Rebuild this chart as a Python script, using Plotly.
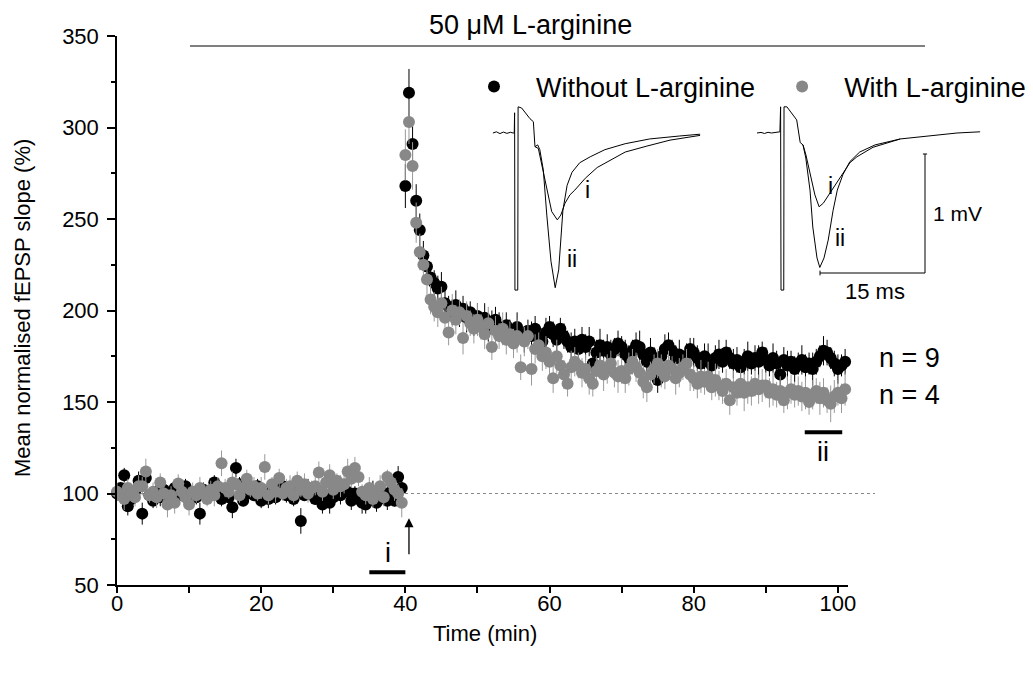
import numpy as np
import plotly.graph_objects as go

# ---------------- data ----------------
TIME_STEP = 0.5  # min between sweeps

BLACK_BASE = [100, 103, 110, 93, 97, 101, 107, 89, 108.5, 99,
              96, 101, 98, 102, 100, 97, 103, 99, 101, 104,
              96, 100, 98, 89, 102, 99, 101, 106, 103, 97,
              100, 98, 92.5, 114, 105, 96, 100, 102, 99, 104,
              96, 101, 97, 103, 98, 100, 104, 99, 101, 97,
              102, 85, 99, 103, 100, 97, 101, 94, 98, 95,
              98, 104, 99, 101, 101, 96, 100, 97, 95, 94,
              99, 101, 95, 98, 100, 96, 101, 96, 109, 103]
GRAY_BASE = [101, 99, 97, 103, 100, 98, 104, 104, 112, 99,
             101, 98, 106, 100, 94, 99, 95, 105.5, 101, 98,
             94, 101, 99, 103, 100, 97, 102, 99, 104, 116.5,
             103, 101, 106, 105, 99, 103, 108, 102, 104, 100,
             103, 114.5, 99, 105, 101, 108.5, 100, 103, 104, 99,
             107, 102, 105, 100, 103, 104, 111.5, 101, 106, 110,
             102, 107, 104, 105, 112, 108, 114, 109, 101, 99,
             103, 97, 101, 104, 98, 109, 106, 102, 100, 95]
BLACK_POST = [268, 319, 291, 260, 244, 230, 224, 218, 215, 212,
              213, 204, 202, 199, 203, 197, 201, 196, 199, 193,
              197, 192, 196, 190, 194, 195, 191, 188, 192, 189,
              186, 191, 187, 184, 189, 186, 190, 185, 183, 188,
              191, 187, 184, 190, 186, 183, 180, 183, 179, 184,
              180, 183, 171, 177, 181, 178, 180, 176, 179, 182,
              180, 176, 174, 178, 181, 180, 176, 172, 177, 174,
              162, 175, 179, 181, 178, 174, 176, 172, 175, 179,
              177, 174, 171, 175, 173, 170, 174, 176, 172, 177,
              174, 171, 173, 169, 172, 175, 171, 174, 172, 177,
              173, 170, 174, 171, 165, 173, 170, 172, 168, 171,
              173, 169, 171, 168, 172, 175, 178, 177, 174, 171,
              168, 170, 172, 166, 169, 167]
GRAY_POST = [285, 303, 279, 248, 232, 225, 217, 206, 202, 199,
             204, 196, 188, 200, 195, 199, 185, 197, 193, 190,
             195, 191, 187, 193, 180, 189, 186, 190, 184, 187,
             182, 186, 169, 183, 186, 168, 179, 181, 175, 177,
             172, 163, 175, 170, 165, 160, 169, 172, 170, 166,
             168, 163, 160, 167, 170, 165, 168, 171, 166, 164,
             167, 163, 168, 172, 169, 166, 161, 158, 165, 168,
             171, 167, 164, 170, 168, 163, 166, 169, 171, 165,
             163, 160, 164, 161, 164, 158, 162, 159, 156, 160,
             151, 158, 155, 160, 155, 158, 156, 160, 157, 159,
             159, 155, 157, 154, 156, 151, 155, 157, 154, 156,
             153, 155, 150, 154, 156, 152, 155, 151, 149, 153,
             155, 152, 157, 154, 156, 155]

BLACK_BASE_ERR = [4, 3, 4, 5, 3, 4, 5, 6, 4, 3, 4, 3, 5, 4, 3, 4, 3, 5, 4, 4,
                  5, 3, 4, 6, 4, 3, 5, 4, 3, 4, 3, 4, 6, 5, 4, 3, 4, 5, 3, 4,
                  4, 3, 5, 4, 4, 3, 5, 4, 3, 4, 4, 7, 3, 5, 4, 3, 4, 5, 4, 6,
                  4, 3, 5, 4, 3, 5, 4, 3, 6, 5, 4, 6, 5, 3, 4, 5, 4, 3, 6, 5]
GRAY_BASE_ERR = [5, 4, 6, 5, 4, 5, 6, 5, 7, 4, 5, 6, 5, 4, 7, 5, 6, 5, 4, 5,
                 6, 5, 4, 6, 5, 4, 5, 6, 5, 7, 5, 4, 6, 5, 4, 6, 5, 4, 5, 4,
                 6, 7, 5, 4, 6, 5, 4, 5, 6, 4, 5, 4, 6, 5, 4, 5, 6, 5, 4, 6,
                 5, 4, 6, 5, 7, 5, 6, 5, 4, 5, 6, 5, 4, 6, 5, 4, 5, 6, 5, 8]
BLACK_POST_ERR = [12, 13, 10, 9, 9, 8, 8, 7, 7, 7, 8, 7, 6, 7, 8, 6, 7, 8, 6, 7,
                  7, 6, 8, 7, 6, 7, 8, 6, 7, 6, 7, 8, 6, 7, 6, 8, 7, 6, 7, 8,
                  6, 7, 8, 6, 7, 6, 8, 7, 6, 7, 7, 8, 6, 7, 9, 6, 7, 8, 6, 7,
                  6, 8, 7, 6, 7, 9, 6, 7, 8, 6, 7, 6, 8, 7, 6, 7, 8, 6, 7, 6,
                  8, 7, 6, 7, 9, 6, 7, 8, 6, 7, 6, 8, 7, 6, 7, 8, 6, 7, 9, 6,
                  7, 6, 8, 7, 6, 7, 8, 6, 7, 6, 8, 7, 6, 9, 7, 6, 8, 7, 6, 7,
                  8, 6, 7, 6, 8, 7]
GRAY_POST_ERR = [14, 12, 13, 11, 10, 9, 9, 8, 8, 8, 9, 8, 7, 9, 8, 7, 9, 8, 7, 8,
                 9, 7, 8, 9, 7, 8, 7, 9, 8, 7, 8, 9, 7, 8, 7, 9, 8, 7, 8, 9,
                 7, 8, 9, 7, 8, 7, 9, 8, 7, 8, 8, 9, 7, 8, 7, 9, 8, 7, 8, 9,
                 7, 8, 9, 7, 8, 7, 9, 8, 7, 8, 8, 9, 7, 8, 7, 9, 8, 7, 8, 9,
                 7, 8, 9, 7, 8, 7, 9, 8, 7, 8, 8, 9, 7, 8, 10, 9, 8, 7, 8, 9,
                 7, 8, 9, 7, 8, 7, 9, 8, 7, 8, 8, 9, 7, 8, 7, 9, 8, 7, 10, 9,
                 7, 8, 9, 7, 8, 7]

# inset traces (time in ms from stimulus, voltage in mV)
INS1_T_I = [-3.3, -2.8, -2.3, -1.8, -1.3, -0.8, -0.4, -0.25, -0.2, -0.15, 0.25, 0.3,
            0.81, 2.0, 2.48, 2.71, 3.19, 3.7, 4.4, 5.1, 5.9, 6.4, 7.0, 7.7, 8.4, 9.9,
            11.6, 13.4, 15.6, 18.7, 22.0, 26.3]
INS1_V_I = [0, 0.01, -0.005, 0.008, -0.003, 0.006, 0, 0, 0.17, -1.32, -1.32, 0.22,
            0.21, 0.12, 0.095, -0.115, -0.13, -0.27, -0.48, -0.66, -0.73, -0.69, -0.59,
            -0.52, -0.48, -0.38, -0.29, -0.23, -0.16, -0.11, -0.06, -0.02]
INS1_T_II = [2.71, 3.1, 3.4, 3.9, 4.4, 5.0, 5.6, 6.1, 6.7, 7.3, 8.0, 9.1, 10.6, 12.7,
             15.6, 19.1, 23.4, 26.3]
INS1_V_II = [-0.115, -0.10, -0.14, -0.31, -0.69, -1.08, -1.30, -1.15, -0.65, -0.44,
             -0.33, -0.25, -0.20, -0.14, -0.09, -0.05, -0.025, -0.01]
INS2_T_I = [-3.57, -3.0, -2.5, -2.0, -1.5, -1.0, -0.43, -0.3, -0.2, -0.14, 0.25, 0.29,
            0.7, 2.1, 2.6, 3.0, 3.4, 4.0, 4.7, 5.3, 5.9, 6.9, 7.9, 8.7, 9.7, 10.7,
            13.0, 16.9, 20.0, 22.6, 25.0, 28.3]
INS2_V_I = [0, 0.005, -0.004, 0.006, 0, 0.004, 0.01, 0.01, 0.22, -1.32, -1.32, 0.22,
            0.22, 0.11, -0.08, -0.10, -0.18, -0.33, -0.52, -0.62, -0.59, -0.5, -0.41,
            -0.34, -0.25, -0.2, -0.12, -0.05, -0.03, -0.017, 0.0, 0.01]
INS2_T_II = [3.0, 3.4, 4.0, 4.4, 5.0, 5.4, 6.0, 6.6, 7.3, 7.9, 8.7, 9.7, 11.1, 13.3, 16.9]
INS2_V_II = [-0.10, -0.21, -0.48, -0.79, -1.05, -1.13, -1.05, -0.9, -0.65, -0.48,
             -0.35, -0.24, -0.16, -0.10, -0.05]
SCALE_MS = 15
SCALE_MV = 1

SERIES_NAMES = ["Without L-arginine", "With L-arginine"]
N_LABELS = ["n = 9", "n = 4"]

# ---------------- layout helpers ----------------
W, H = 1033, 678
ML, MR, MT, MB = 117, 8, 36, 93
PW = W - ML - MR
PH = H - MT - MB
FONT = "Liberation Sans, Arial, Helvetica, sans-serif"


def pxx(px):
    return (px - ML) / PW


def pxy(py):
    return (H - MB - py) / PH


black_y = BLACK_BASE + BLACK_POST
gray_y = GRAY_BASE + GRAY_POST
black_e = BLACK_BASE_ERR + BLACK_POST_ERR
gray_e = GRAY_BASE_ERR + GRAY_POST_ERR
t_black = np.arange(len(black_y)) * TIME_STEP
t_gray = np.arange(len(gray_y)) * TIME_STEP

fig = go.Figure()
fig.add_trace(go.Scatter(
    x=t_black, y=black_y, mode="markers", name=SERIES_NAMES[0],
    marker=dict(color="#000000", size=12, line=dict(width=0)),
    error_y=dict(type="data", array=black_e, color="#000000", thickness=1, width=0),
    cliponaxis=False))
fig.add_trace(go.Scatter(
    x=t_gray, y=gray_y, mode="markers", name=SERIES_NAMES[1],
    marker=dict(color="#888888", size=12, line=dict(width=0)),
    error_y=dict(type="data", array=gray_e, color="#999999", thickness=1, width=0),
    cliponaxis=False))

# insets
line_style = dict(color="#000000", width=1)
for xa, ya, tt, vv in [("x2", "y2", INS1_T_I, INS1_V_I), ("x2", "y2", INS1_T_II, INS1_V_II),
                       ("x3", "y3", INS2_T_I, INS2_V_I), ("x3", "y3", INS2_T_II, INS2_V_II)]:
    fig.add_trace(go.Scatter(x=tt, y=vv, mode="lines", line=line_style,
                             xaxis=xa, yaxis=ya, showlegend=False, hoverinfo="skip"))

PXMS, PXMV = 7.0, 119.0  # inset scale in px


def inset_axes(px0, px1, stim_px):
    return [(px0 - stim_px) / PXMS, (px1 - stim_px) / PXMS]


V_RANGE = [-(300 - 133) / PXMV, -(100 - 133) / PXMV]

axis_common = dict(showgrid=False, zeroline=False, showline=True, linecolor="#000000",
                   linewidth=1.5, ticks="outside", tickwidth=1.5, tickcolor="#000000",
                   tickfont=dict(family=FONT, size=22, color="#000000"),
                   title_font=dict(family=FONT, size=22, color="#000000"))

fig.update_layout(
    width=W, height=H,
    margin=dict(l=ML, r=MR, t=MT, b=MB, autoexpand=False),
    paper_bgcolor="#ffffff", plot_bgcolor="#ffffff",
    font=dict(family=FONT, color="#000000"),
    xaxis=dict(domain=[0, pxx(848)], range=[0, 101.4], dtick=20, tick0=0, ticklen=6,
               ticklabelstandoff=-8,
               minor=dict(dtick=10, ticks="outside", ticklen=6, tickwidth=1.5, tickcolor="#000000"),
               **axis_common),
    yaxis=dict(domain=[0, 1], range=[50, 350], dtick=50, tick0=50, ticklen=8,
               ticklabelstandoff=4,
               minor=dict(dtick=25, ticks="outside", ticklen=4, tickwidth=1.5, tickcolor="#000000"),
               **axis_common),
    xaxis2=dict(domain=[pxx(490), pxx(720)], range=inset_axes(490, 720, 516), visible=False,
                anchor="y2"),
    yaxis2=dict(domain=[pxy(300), pxy(100)], range=V_RANGE, visible=False, anchor="x2"),
    xaxis3=dict(domain=[pxx(750), pxx(1000)], range=inset_axes(750, 1000, 782), visible=False,
                anchor="y3"),
    yaxis3=dict(domain=[pxy(300), pxy(100)], range=V_RANGE, visible=False, anchor="x3"),
    showlegend=True,
    legend=dict(orientation="h", x=pxx(452), y=pxy(87), xanchor="left", yanchor="middle",
                font=dict(family=FONT, size=27, color="#000000"), bgcolor="rgba(0,0,0,0)",
                itemwidth=74, traceorder="normal"),
)

shapes = []
# drug application bar
shapes.append(dict(type="line", xref="paper", yref="paper", x0=pxx(190), x1=pxx(925),
                   y0=pxy(46), y1=pxy(46), line=dict(color="#000000", width=1)))
# 100% baseline dotted line
shapes.append(dict(type="line", xref="paper", yref="y", x0=0, x1=pxx(875), y0=100, y1=100,
                   line=dict(color="#888888", width=1, dash="dot"), layer="below"))
# i / ii bars
shapes.append(dict(type="line", xref="x", yref="y", x0=35, x1=40, y0=57, y1=57,
                   line=dict(color="#000000", width=4)))
shapes.append(dict(type="line", xref="x", yref="y", x0=95.4, x1=100.6, y0=133.5, y1=133.5,
                   line=dict(color="#000000", width=4)))
# scale bar in inset 2
sb_t1 = (925 - 782) / PXMS
sb_t0 = sb_t1 - SCALE_MS
sb_v0 = -(273 - 133) / PXMV
sb_v1 = sb_v0 + SCALE_MV
shapes.append(dict(type="line", xref="x3", yref="y3", x0=sb_t0, x1=sb_t1, y0=sb_v0, y1=sb_v0,
                   line=dict(color="#000000", width=1)))
shapes.append(dict(type="line", xref="x3", yref="y3", x0=sb_t1, x1=sb_t1, y0=sb_v0, y1=sb_v1,
                   line=dict(color="#000000", width=1)))
shapes.append(dict(type="line", xref="x3", yref="y3", x0=sb_t1 - 0.3, x1=sb_t1 + 0.3, y0=sb_v1, y1=sb_v1,
                   line=dict(color="#000000", width=1)))
shapes.append(dict(type="line", xref="x3", yref="y3", x0=sb_t0, x1=sb_t0, y0=sb_v0 - 0.02, y1=sb_v0 + 0.02,
                   line=dict(color="#000000", width=1)))
fig.update_layout(shapes=shapes)

ann_font = dict(family=FONT, size=23, color="#000000")
big_font = dict(family=FONT, size=27, color="#000000")
title_font = dict(family=FONT, size=22, color="#000000")
annotations = [
    dict(text="Mean normalised fEPSP slope (%)", xref="paper", yref="paper", x=pxx(22),
         y=pxy(308), textangle=-90, showarrow=False, font=title_font,
         xanchor="center", yanchor="middle"),
    dict(text="Time (min)", xref="paper", yref="paper", x=pxx(485), y=pxy(633),
         showarrow=False, font=title_font, xanchor="center", yanchor="middle"),
    dict(text="50 \u03bcM L-arginine", xref="paper", yref="paper", x=pxx(530), y=pxy(25),
         showarrow=False, font=big_font, xanchor="center", yanchor="middle"),
    dict(text=N_LABELS[0], xref="paper", yref="y", x=pxx(909), y=174, showarrow=False,
         font=big_font, xanchor="center", yanchor="middle"),
    dict(text=N_LABELS[1], xref="paper", yref="y", x=pxx(909), y=154, showarrow=False,
         font=big_font, xanchor="center", yanchor="middle"),
    dict(text="i", xref="x", yref="y", x=37.6, y=67.5, showarrow=False, font=big_font),
    dict(text="ii", xref="x", yref="y", x=97.9, y=122.5, showarrow=False, font=big_font),
    dict(text="", xref="x", yref="y", x=40.5, y=86.5, ax=40.5, ay=66, axref="x", ayref="y",
         showarrow=True, arrowhead=2, arrowsize=1.4, arrowwidth=1.3, arrowcolor="#000000"),
    dict(text="i", xref="x2", yref="y2", x=(587 - 516) / PXMS, y=-(190 - 133) / PXMV,
         showarrow=False, font=ann_font),
    dict(text="ii", xref="x2", yref="y2", x=(572 - 516) / PXMS, y=-(259 - 133) / PXMV,
         showarrow=False, font=ann_font),
    dict(text="i", xref="x3", yref="y3", x=(830 - 782) / PXMS, y=-(186 - 133) / PXMV,
         showarrow=False, font=ann_font),
    dict(text="ii", xref="x3", yref="y3", x=(840 - 782) / PXMS, y=-(238 - 133) / PXMV,
         showarrow=False, font=ann_font),
    dict(text=f"{SCALE_MV} mV", xref="x3", yref="y3", x=sb_t1 + 0.8, y=(sb_v0 + sb_v1) / 2,
         showarrow=False, font=dict(family=FONT, size=21, color="#000000"), xanchor="left"),
    dict(text=f"{SCALE_MS} ms", xref="x3", yref="y3", x=(sb_t0 + sb_t1) / 2 + 0.3, y=sb_v0 - 0.03,
         showarrow=False, font=dict(family=FONT, size=22, color="#000000"), yanchor="top"),
]
fig.update_layout(annotations=annotations)

fig.write_html("out.html", config={"displayModeBar": False},
               post_script="document.body.style.margin='0';document.body.style.padding='0';")
